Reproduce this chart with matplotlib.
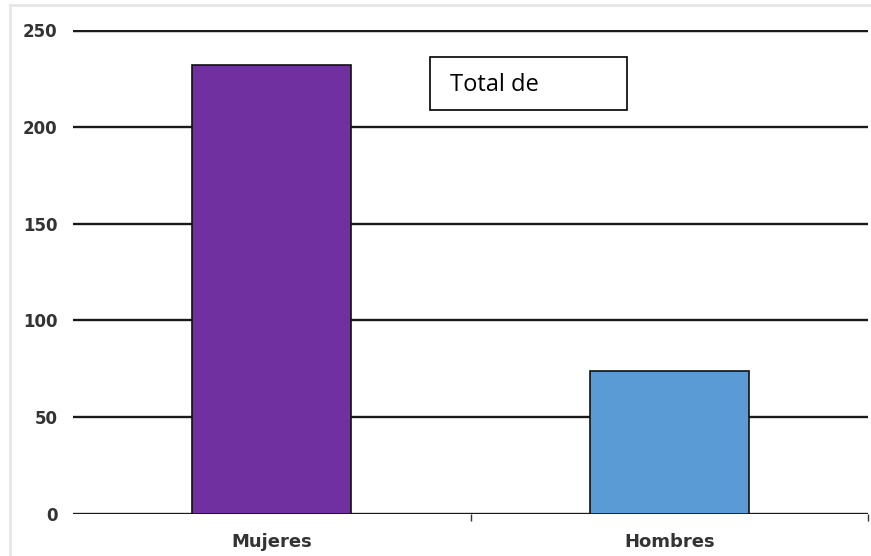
import matplotlib
matplotlib.use("Agg")
import matplotlib.pyplot as plt
from matplotlib.patches import Rectangle
from matplotlib.lines import Line2D

# datos
categorias = ["Mujeres", "Hombres"]
valores = [232, 74]
colores = ["#7030A0", "#5B9BD5"]
y_ticks = [0, 50, 100, 150, 200, 250]
titulo = "Total de"

fig = plt.figure(figsize=(8.71, 5.56), dpi=100)
fig.patch.set_facecolor("white")

# marco gris claro de la imagen
fig.add_artist(Line2D([10/871, 10/871], [0, 1 - 5/556], transform=fig.transFigure,
                      color="#e6e6e6", lw=2))
fig.add_artist(Line2D([10/871, 1], [1 - 5/556, 1 - 5/556], transform=fig.transFigure,
                      color="#e6e6e6", lw=2))

ax = fig.add_axes([73/871, (556 - 514)/556, (868 - 73)/871, (514 - 30)/556])
ax.set_xlim(-0.5, 1.5)
ax.set_ylim(0, 250)

# lineas de la cuadricula
for y in y_ticks[1:]:
    lw = 3.2 if y == 250 else 1.7
    ax.axhline(y, color="#1a1a1a", lw=lw, zorder=1)
ax.axhline(0, color="#1a1a1a", lw=2.4, zorder=1)

x = list(range(len(categorias)))
ax.bar(x, valores, width=0.4, color=colores, edgecolor="#111111", linewidth=1.2, zorder=3)

for s in ax.spines.values():
    s.set_visible(False)

ax.set_yticks(y_ticks)
ax.set_yticklabels([str(v) for v in y_ticks], fontsize=12, fontweight="bold", color="#333333")
ax.tick_params(axis="y", length=0, pad=11)

ax.set_xticks(x)
ax.set_xticklabels(categorias, fontsize=13, fontweight="bold", color="#333333")
ax.set_xticks([0.5, 1.5], minor=True)
ax.tick_params(axis="x", which="major", length=0, pad=14)
ax.tick_params(axis="x", which="minor", length=5, width=1, color="#333333")

# recuadro con el titulo
fig.add_artist(Rectangle((430/871, 1 - 110/556), 197/871, 53/556, transform=fig.transFigure,
                         facecolor="white", edgecolor="black", lw=1.2, zorder=5))
fig.text(450/871, 1 - 85/556, titulo, fontsize=17, family="Open Sans",
         va="center", ha="left", color="black", zorder=6)

fig.savefig("out.png", dpi=100)
